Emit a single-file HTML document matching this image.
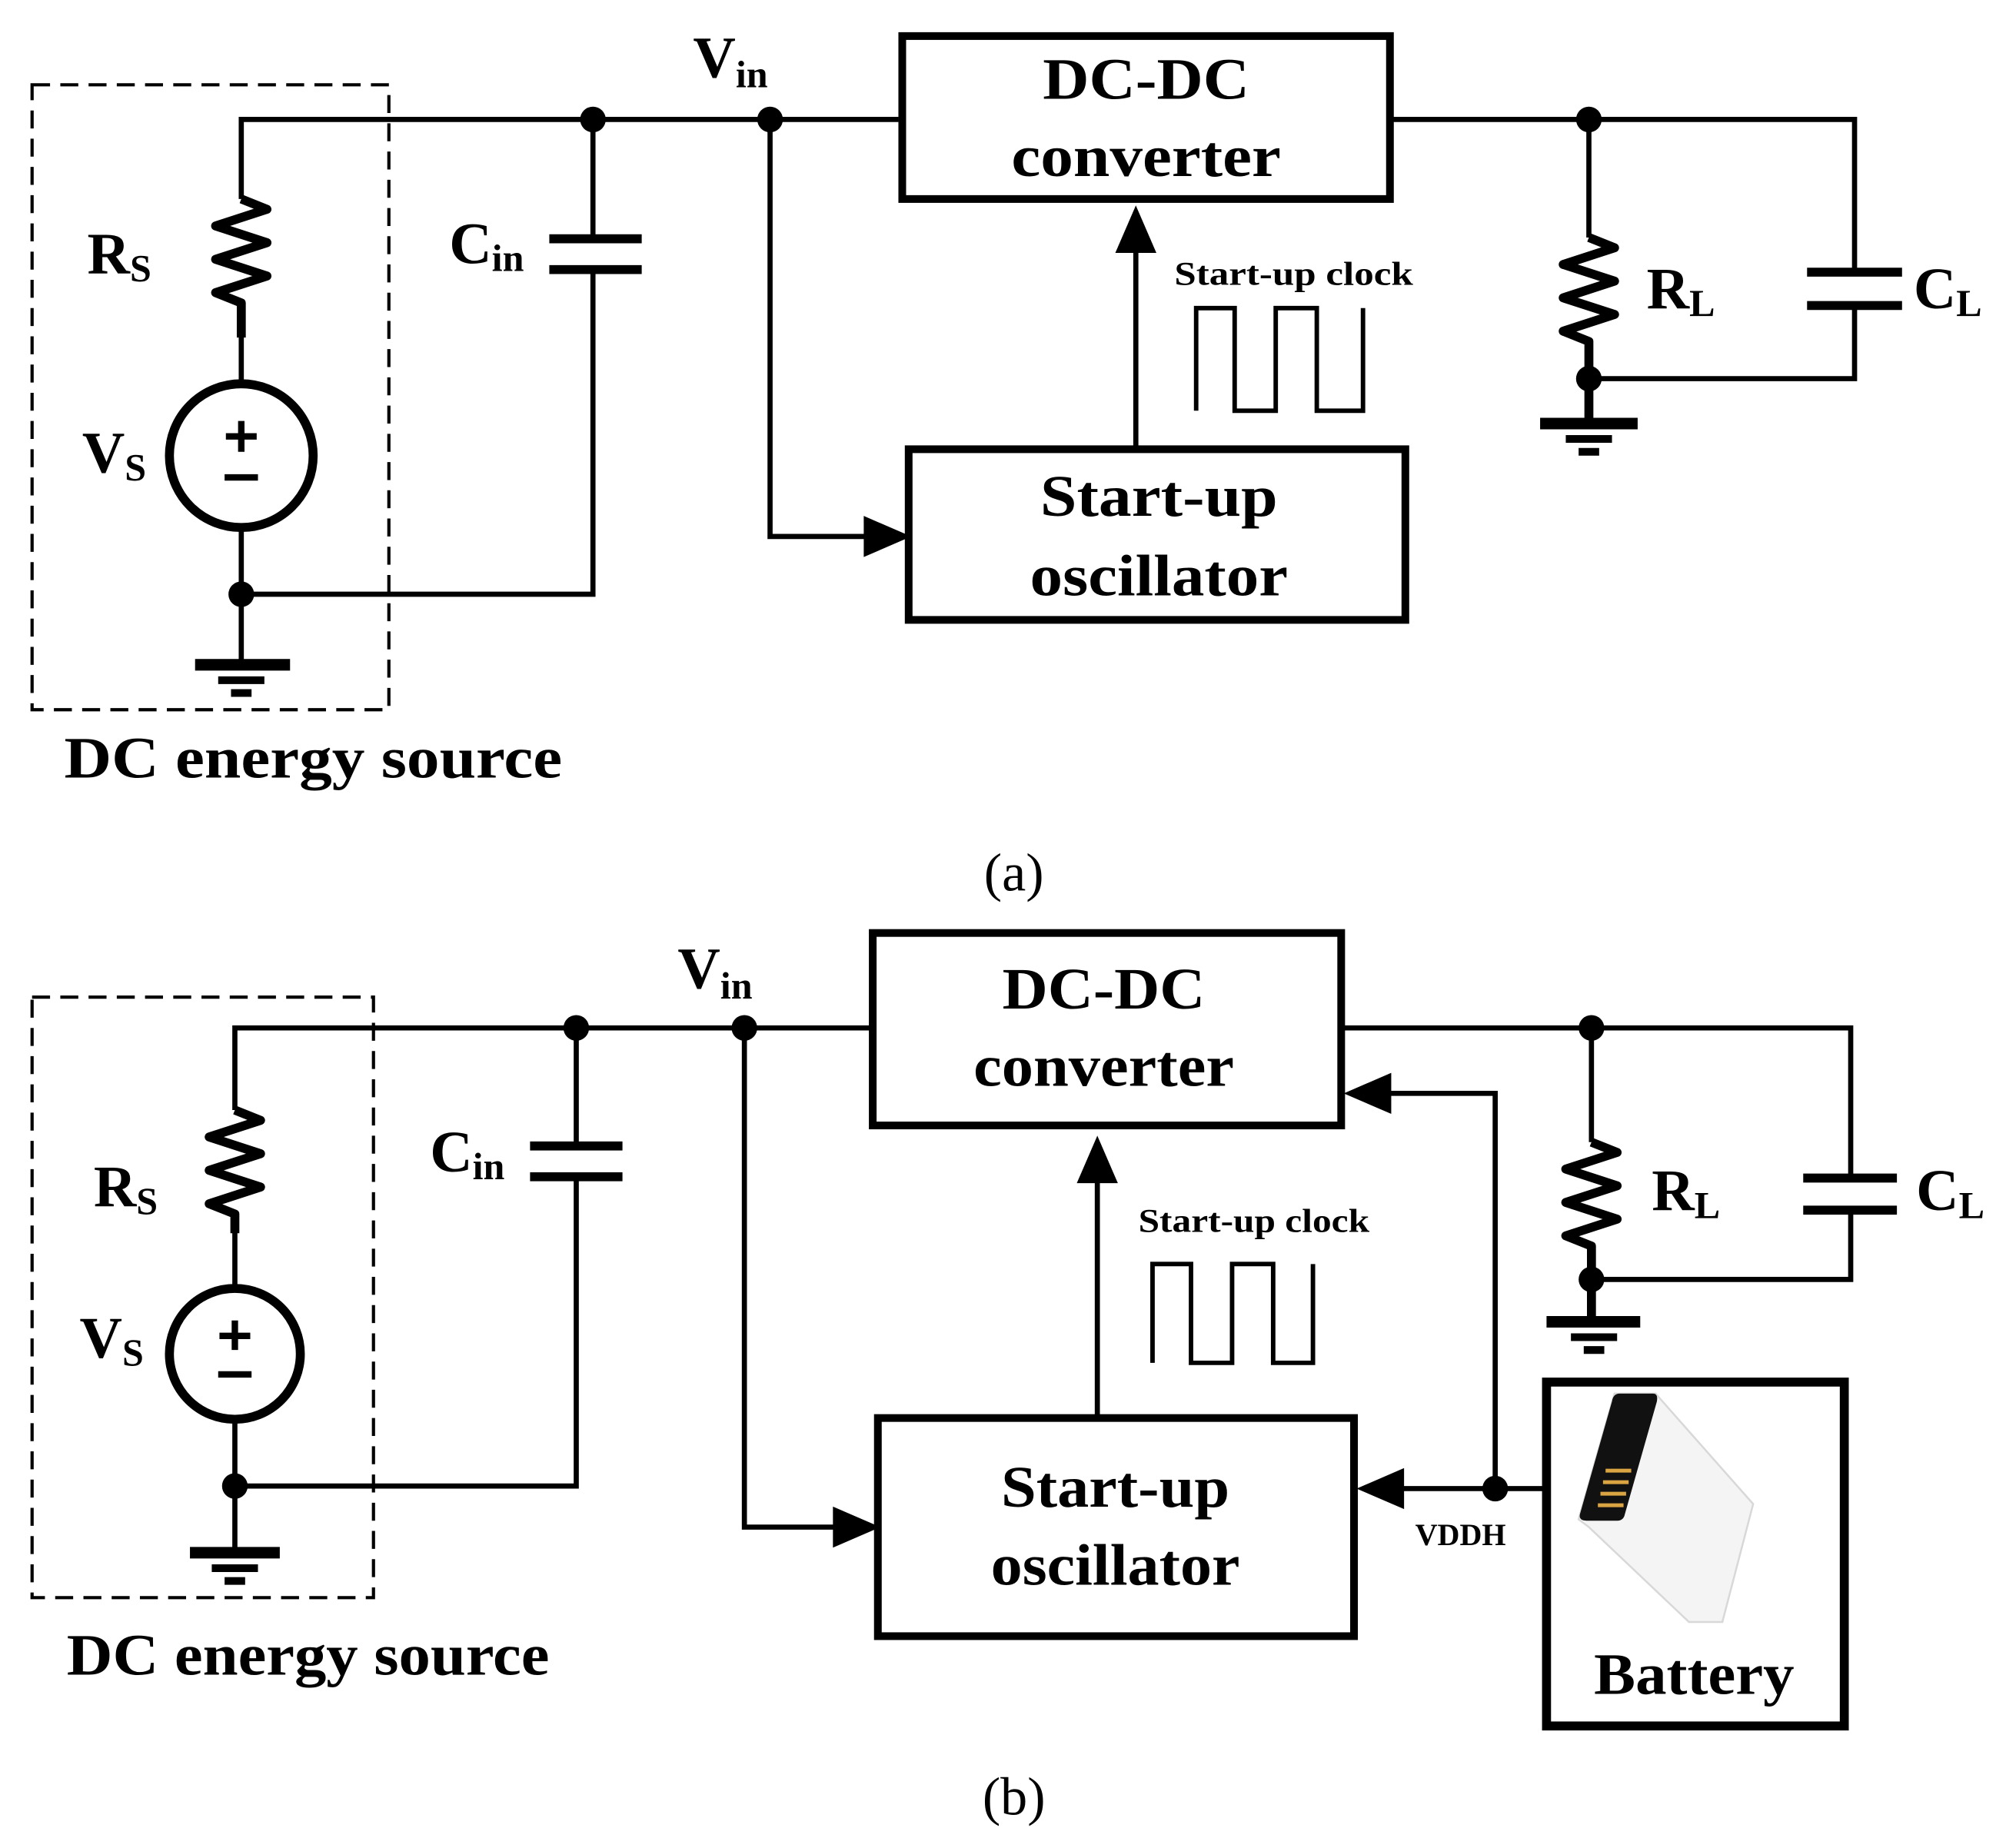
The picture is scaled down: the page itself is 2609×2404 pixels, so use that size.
<!DOCTYPE html>
<html><head><meta charset="utf-8"><style>html,body{margin:0;padding:0;background:#fff}svg{display:block}</style></head><body>
<svg width="2609" height="2404" viewBox="0 0 1563 1440" xmlns="http://www.w3.org/2000/svg" font-family="'Liberation Serif',serif" font-weight="bold">
<g fill="none" stroke="#000" stroke-width="4">
<!-- (a) -->
<rect x="25" y="66" width="278" height="487" stroke-width="2.5" stroke-dasharray="14,8"/>
<path d="M188 155V93H700"/>
<path d="M188 155l20 8-40 13 40 13-40 13 40 13-40 13 20 8v27" stroke-width="7" stroke-linejoin="round"/>
<circle cx="188" cy="355" r="56" stroke-width="7"/>
<path d="M188 240V297M188 413V515M188 463H462V210M462 93V186"/>
<path d="M428 186H500M428 210H500" stroke-width="7"/>
<path d="M152 518H226" stroke-width="9"/><path d="M170 530H206" stroke-width="6"/><path d="M180 540H196" stroke-width="6"/>
<rect x="703" y="28" width="380" height="127" stroke-width="6"/>
<rect x="708" y="350" width="387" height="133" stroke-width="6"/>
<path d="M885 350V195"/>
<path d="M600 93V418H675"/>
<path d="M932 320V240H962V320H994V240H1026V320H1062V240" stroke-width="3.5"/>
<path d="M1083 93H1445V212M1445 238V295H1238M1238 93V185"/>
<path d="M1238 185l20 8-40 13 40 13-40 13 40 13-40 13 20 8V327" stroke-width="7" stroke-linejoin="round"/>
<path d="M1408 212H1482M1408 238H1482" stroke-width="7"/>
<path d="M1200 330H1276" stroke-width="9"/><path d="M1220 342H1256" stroke-width="6"/><path d="M1230 352H1246" stroke-width="6"/>
<!-- (b) -->
<rect x="25" y="777" width="266" height="468" stroke-width="2.5" stroke-dasharray="14,8"/>
<path d="M183 865V801H680"/>
<path d="M183 865l20 8-40 13 40 13-40 13 40 13-40 13 20 8v15" stroke-width="7" stroke-linejoin="round"/>
<circle cx="183" cy="1055" r="51" stroke-width="7"/>
<path d="M183 945V1003M183 1107V1207M183 1158H449V917M449 801V893"/>
<path d="M413 893H485M413 917H485" stroke-width="7"/>
<path d="M148 1210H218" stroke-width="9"/><path d="M165 1222H201" stroke-width="6"/><path d="M175 1232H191" stroke-width="6"/>
<rect x="680" y="727" width="365" height="150" stroke-width="6"/>
<rect x="684" y="1105" width="371" height="170" stroke-width="6"/>
<path d="M855 1105V920"/>
<path d="M580 801V1190H652"/>
<path d="M898 1062V985H928V1062H960V985H992V1062H1023V985" stroke-width="3.5"/>
<path d="M1045 801H1442V918M1442 943V997H1240M1240 801V890"/>
<path d="M1240 890l20 8-40 13 40 13-40 13 40 13-40 13 20 8V1027" stroke-width="7" stroke-linejoin="round"/>
<path d="M1405 918H1478M1405 943H1478" stroke-width="7"/>
<path d="M1205 1030H1278" stroke-width="9"/><path d="M1224 1042H1260" stroke-width="6"/><path d="M1234 1052H1250" stroke-width="6"/>
<path d="M1205 1160H1090M1165 1160V852H1080"/>
<rect x="1205" y="1077" width="232" height="268" stroke-width="7"/>
<!-- plus/minus -->
<path d="M188 328V352M176 340H200M175 372H201" stroke-width="5"/>
<path d="M183 1029V1052M171 1041H195M170 1071H196" stroke-width="5"/>
</g>
<g fill="#000">
<circle cx="462" cy="93" r="10"/><circle cx="600" cy="93" r="10"/><circle cx="188" cy="463" r="10"/>
<circle cx="1238" cy="93" r="10"/><circle cx="1238" cy="295" r="10"/>
<polygon points="885,160 869,197 901,197"/><polygon points="710,418 673,402 673,434"/>
<circle cx="449" cy="801" r="10"/><circle cx="580" cy="801" r="10"/><circle cx="183" cy="1158" r="10"/>
<circle cx="1240" cy="801" r="10"/><circle cx="1240" cy="997" r="10"/><circle cx="1165" cy="1160" r="10"/>
<polygon points="855,885 839,922 871,922"/><polygon points="686,1190 649,1174 649,1206"/>
<polygon points="1057,1160 1094,1144 1094,1176"/><polygon points="1047,852 1084,836 1084,868"/>
</g>
<!-- battery image -->
<polygon points="1258,1086 1290,1086 1366,1172 1342,1264 1316,1264 1238,1190 1230,1184" fill="#f4f4f4" stroke="#d8d8d8" stroke-width="1.5"/>
<path d="M1262 1086H1288Q1292 1086 1291 1092L1266 1180Q1265 1185 1260 1185H1236Q1230 1185 1231 1180L1256 1092Q1257 1086 1262 1086Z" fill="#111"/>
<g stroke="#d9a441" stroke-width="3"><path d="M1251 1146h20M1249 1155h20M1247 1164h20M1245 1173h20"/></g>
<g font-size="46" text-anchor="middle">
<text x="893" y="77" textLength="161" lengthAdjust="spacingAndGlyphs">DC-DC</text><text x="893" y="137" textLength="210" lengthAdjust="spacingAndGlyphs">converter</text>
<text x="903" y="402" textLength="185" lengthAdjust="spacingAndGlyphs">Start-up</text><text x="903" y="464" textLength="201" lengthAdjust="spacingAndGlyphs">oscillator</text>
<text x="860" y="786" textLength="158" lengthAdjust="spacingAndGlyphs">DC-DC</text><text x="860" y="846" textLength="203" lengthAdjust="spacingAndGlyphs">converter</text>
<text x="869" y="1174" textLength="178" lengthAdjust="spacingAndGlyphs">Start-up</text><text x="869" y="1235" textLength="194" lengthAdjust="spacingAndGlyphs">oscillator</text>
<text x="1320" y="1320" textLength="156" lengthAdjust="spacingAndGlyphs">Battery</text>
</g>
<g font-size="46">
<text x="50" y="606" textLength="388" lengthAdjust="spacingAndGlyphs">DC energy source</text>
<text x="52" y="1305" textLength="376" lengthAdjust="spacingAndGlyphs">DC energy source</text>
<text x="68" y="213">R<tspan font-size="30" dy="6">S</tspan></text>
<text x="64" y="368">V<tspan font-size="30" dy="6">S</tspan></text>
<text x="350" y="205">C<tspan font-size="30" dy="6">in</tspan></text>
<text x="540" y="60">V<tspan font-size="30" dy="8">in</tspan></text>
<text x="1283" y="240">R<tspan font-size="30" dy="6">L</tspan></text>
<text x="1491" y="240">C<tspan font-size="30" dy="6">L</tspan></text>
<text x="73" y="940">R<tspan font-size="30" dy="6">S</tspan></text>
<text x="62" y="1058">V<tspan font-size="30" dy="6">S</tspan></text>
<text x="335" y="913">C<tspan font-size="30" dy="6">in</tspan></text>
<text x="528" y="770">V<tspan font-size="30" dy="8">in</tspan></text>
<text x="1287" y="943">R<tspan font-size="30" dy="6">L</tspan></text>
<text x="1493" y="943">C<tspan font-size="30" dy="6">L</tspan></text>
</g>
<g font-size="26" text-anchor="middle">
<text x="1008" y="222" textLength="186" lengthAdjust="spacingAndGlyphs">Start-up clock</text>
<text x="977" y="960" textLength="180" lengthAdjust="spacingAndGlyphs">Start-up clock</text>
<text x="1138" y="1204" font-size="24">VDDH</text>
</g>
<g font-size="42" font-weight="normal" text-anchor="middle">
<text x="790" y="694">(a)</text><text x="790" y="1414">(b)</text>
</g>
</svg>
</body></html>
